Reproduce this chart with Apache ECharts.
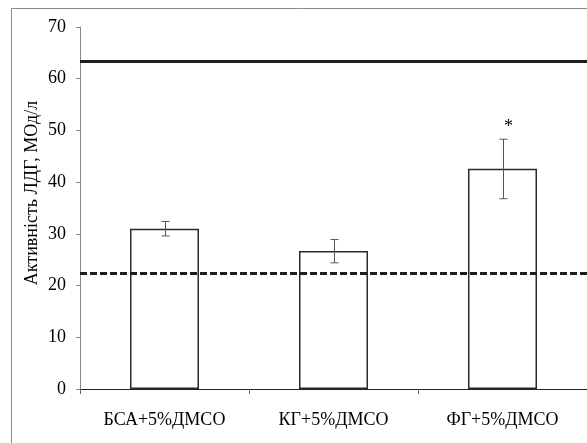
<!DOCTYPE html>
<html>
<head>
<meta charset="utf-8">
<script src="https://cdn.jsdelivr.net/npm/echarts@6/dist/echarts.min.js"></script>
<style>html,body{margin:0;padding:0;background:#fff;}#c{width:587px;height:443px;}</style>
</head>
<body>
<div id="c"></div>
<script>
const categories = ['БСА+5%ДМСО', 'КГ+5%ДМСО', 'ФГ+5%ДМСО'];
const values = [31.0, 26.7, 42.6];
const errLow = [29.6, 24.4, 36.8];
const errHigh = [32.4, 28.9, 48.3];
const signif = ['', '', '*'];
const solidRef = 63.3;
const dashedRef = 22.4;
const yTicks = [0, 70, 10];
const yName = 'Активність ЛДГ, МОд/л';

const font = 'Liberation Serif';
const chart = echarts.init(document.getElementById('c'), null, {renderer: 'canvas'});
const errData = categories.map((c, i) => [i, errLow[i], errHigh[i], signif[i]]);

chart.setOption({
  animation: false,
  backgroundColor: '#fff',
  grid: {left: 80, top: 27, width: 510, height: 362},
  graphic: [
    {type: 'rect', shape: {x: 11.5, y: 8.5, width: 700, height: 600}, style: {fill: 'none', stroke: '#8a8a8a', lineWidth: 1}, silent: true, z: -1},
    {type: 'text', x: 32, y: 193, rotation: Math.PI / 2,
     style: {text: yName, font: '18px "Liberation Serif"', fill: '#000', textAlign: 'center', textVerticalAlign: 'middle'}}
  ],
  xAxis: {
    type: 'category', data: categories,
    axisLine: {lineStyle: {color: '#222', width: 1}},
    axisTick: {show: true, length: 5, lineStyle: {color: '#666'}},
    axisLabel: {fontFamily: font, fontSize: 18, color: '#000', margin: 22},
    splitLine: {show: false}
  },
  yAxis: {
    type: 'value', min: yTicks[0], max: yTicks[1], interval: yTicks[2],
    axisLine: {show: true, lineStyle: {color: '#888', width: 1}},
    axisTick: {show: true, length: 4, lineStyle: {color: '#888'}},
    axisLabel: {fontFamily: font, fontSize: 18, color: '#000', margin: 14},
    splitLine: {show: false}
  },
  series: [
    {
      type: 'bar', data: values, barWidth: 69,
      itemStyle: {color: '#fff', borderColor: '#2a2a2a', borderWidth: 1.5},
      markLine: {
        silent: true, symbol: 'none', label: {show: false},
        data: [
          {yAxis: solidRef, lineStyle: {type: 'solid', width: 3, color: '#1e1e1e'}},
          {yAxis: dashedRef, lineStyle: {type: [7, 3], width: 3, color: '#1e1e1e'}}
        ]
      }
    },
    {
      type: 'custom', data: errData, z: 10,
      encode: {x: 0, y: [1, 2]},
      renderItem: function (params, api) {
        const x = api.value(0);
        const lo = api.coord([x, api.value(1)]);
        const hi = api.coord([x, api.value(2)]);
        const cx = lo[0] + 1;
        const w = 4;
        const style = {stroke: '#555', lineWidth: 1};
        const children = [
          {type: 'line', shape: {x1: cx, y1: hi[1], x2: cx, y2: lo[1]}, style: style},
          {type: 'line', shape: {x1: cx - w, y1: hi[1], x2: cx + w, y2: hi[1]}, style: style},
          {type: 'line', shape: {x1: cx - w, y1: lo[1], x2: cx + w, y2: lo[1]}, style: style}
        ];
        const s = api.value(3);
        if (s) {
          children.push({type: 'text', x: cx + 5, y: hi[1] - 12,
            style: {text: s, font: '18px "Liberation Serif"', fill: '#000', textAlign: 'center', textVerticalAlign: 'middle'}});
        }
        return {type: 'group', children: children};
      }
    }
  ]
});
</script>
</body>
</html>
